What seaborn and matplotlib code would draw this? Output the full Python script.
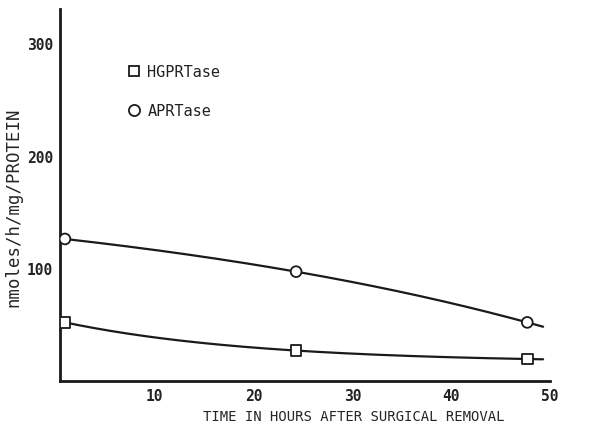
import numpy as np
import pandas as pd
import matplotlib
matplotlib.use("Agg")
import matplotlib.pyplot as plt
import seaborn as sns
from matplotlib.lines import Line2D

hours = [0.9, 24.3, 47.7]
hgprtase = [52, 27, 19.5]
aprtase = [126, 97, 52]
series_names = ["HGPRTase", "APRTase"]
x_ticks = [10, 20, 30, 40, 50]
y_ticks = [100, 200, 300]

sns.set_theme(style="ticks")
plt.rcParams["font.family"] = ["DejaVu Sans Mono", "DejaVu Sans"]
plt.rcParams["text.color"] = "#222222"

df = pd.DataFrame({
    "hours": hours * 2,
    "value": hgprtase + aprtase,
    "enzyme": [series_names[0]] * 3 + [series_names[1]] * 3,
})

fig = plt.figure(figsize=(6.12, 4.27), dpi=100)
ax = fig.add_axes([60 / 612, 45 / 427, 490 / 612, 372 / 427])


def exp_fit(x, y):
    # y = c + b*exp(-k x) through three points
    x1, x2, x3 = x
    y1, y2, y3 = y
    h = (x3 - x1) / 2
    k = np.log((y1 - y2) / (y2 - y3)) / h
    b = (y1 - y2) / (np.exp(-k * x1) - np.exp(-k * x2))
    c = y1 - b * np.exp(-k * x1)
    return lambda t: c + b * np.exp(-k * t)


grid = np.linspace(hours[0], 49.3, 200)
for name, vals in zip(series_names, [hgprtase, aprtase]):
    f = exp_fit(hours, vals)
    sns.lineplot(x=grid, y=f(grid), ax=ax, color="#1a1a1a", lw=1.6, legend=False)

sns.scatterplot(data=df, x="hours", y="value", style="enzyme",
                markers={"HGPRTase": "s", "APRTase": "o"},
                ax=ax, facecolor="white", edgecolor="#1a1a1a", linewidth=1.3,
                s=60, legend=False, zorder=5)

ax.set_xlim(0.4, 49.4)
ax.set_ylim(0, 330)
ax.set_xticks(x_ticks)
ax.set_yticks(y_ticks)
ax.set_xticklabels([str(t) for t in x_ticks], fontsize=10.5, fontweight="bold")
ax.set_yticklabels([str(t) for t in y_ticks], fontsize=10.5, fontweight="bold")
ax.tick_params(axis="x", length=0, pad=5, colors="#222222")
ax.tick_params(axis="y", length=0, pad=5, colors="#222222")
for lbl in ax.get_xticklabels():
    lbl.set_clip_on(False)

ax.set_xlabel("TIME IN HOURS AFTER SURGICAL REMOVAL", fontsize=10)
ax.set_ylabel("nmoles/h/mg/PROTEIN", fontsize=12.5)
ax.xaxis.set_label_coords(0.6, -0.075)
ax.yaxis.set_label_coords(-0.076, 0.47)

sns.despine(ax=ax)
for sp in ["left", "bottom"]:
    ax.spines[sp].set_linewidth(2)
    ax.spines[sp].set_color("#1a1a1a")

handles = [Line2D([], [], marker="s", ls="", mfc="white", mec="#1a1a1a", mew=1.3, ms=7),
           Line2D([], [], marker="o", ls="", mfc="white", mec="#1a1a1a", mew=1.3, ms=8)]
ax.legend(handles, series_names, loc="upper left", bbox_to_anchor=(126 / 612, 1 - 65 / 427),
          bbox_transform=fig.transFigure, frameon=False, fontsize=11,
          handletextpad=0.4, labelspacing=1.6, handlelength=1.0, borderpad=0, borderaxespad=0)

fig.savefig("out.png", dpi=100, facecolor="white")
